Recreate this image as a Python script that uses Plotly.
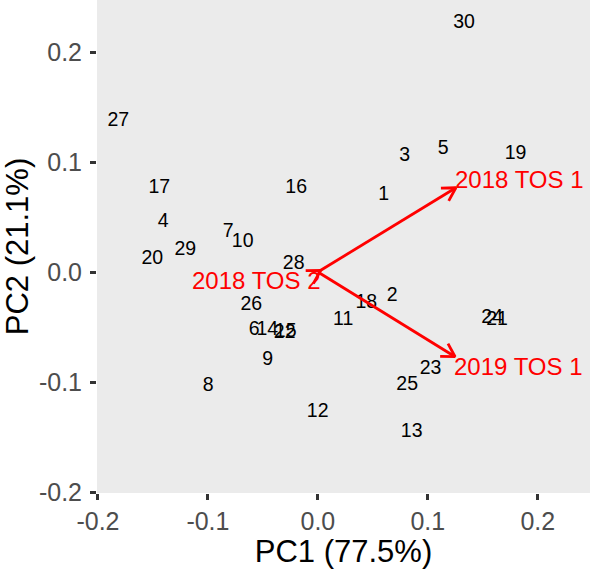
import numpy as np
import plotly.graph_objects as go

# Observation scores (PC1, PC2) and labels
obs_labels = [str(i) for i in range(1, 31)]
pc1 = [0.0598, 0.0675, 0.0789, -0.1406, 0.1139, -0.0579, -0.0815, -0.0997, -0.0456, -0.0684,
       0.0230, -0.0002, 0.0853, -0.0460, -0.0293, -0.0197, -0.1443, 0.0440, 0.1798, -0.1506,
       0.1630, -0.0302, 0.1025, 0.1585, 0.0812, -0.0605, -0.1815, -0.0220, -0.1206, 0.1330]
pc2 = [0.0700, -0.0223, 0.1055, 0.0457, 0.1114, -0.0527, 0.0366, -0.1041, -0.0800, 0.0268,
       -0.0436, -0.1273, -0.1459, -0.0527, -0.0545, 0.0764, 0.0764, -0.0282, 0.1068, 0.0118,
       -0.0436, -0.0555, -0.0882, -0.0418, -0.1032, -0.0300, 0.1368, 0.0073, 0.0195, 0.2261]

# Variable loadings (arrow tips)
var_names = ["2018 TOS 1", "2019 TOS 1", "2018 TOS 2"]
load_pc1 = [0.1255, 0.1248, 0.0025]
load_pc2 = [0.0766, -0.0770, 0.0015]

# Axis ticks
tick_vals = [-0.2, -0.1, 0.0, 0.1, 0.2]
tick_text = ["-0.2", "-0.1", "0.0", "0.1", "0.2"]

# Styles
FONT = "Liberation Sans"
RED = "#FF0000"
label_anchor = ["left", "left", "right"]
label_xshift = [-3, -3, 2]
label_yshift = [8, -10, -10]
head_len = 0.0136
head_ang = np.pi / 6

fig = go.Figure()

fig.add_trace(go.Scatter(
    x=pc1, y=pc2, text=obs_labels, mode="text",
    textposition="middle center",
    textfont=dict(family=FONT, size=19.5, color="black"),
    hoverinfo="skip", showlegend=False,
))

# Arrows (shaft + open chevron head), computed from loadings
ax_, ay_ = [], []
for tx, ty in zip(load_pc1, load_pc2):
    ax_ += [0, tx, None]
    th = np.arctan2(ty, tx) + np.pi
    a1 = (tx + head_len * np.cos(th + head_ang), ty + head_len * np.sin(th + head_ang))
    a2 = (tx + head_len * np.cos(th - head_ang), ty + head_len * np.sin(th - head_ang))
    ax_ += [a1[0], tx, a2[0], None]
    ay_ += [0, ty, None, a1[1], ty, a2[1], None]
fig.add_trace(go.Scatter(
    x=ax_, y=ay_, mode="lines",
    line=dict(color=RED, width=2.8),
    hoverinfo="skip", showlegend=False,
))

for name, tx, ty, anc, xs, ys in zip(var_names, load_pc1, load_pc2,
                                     label_anchor, label_xshift, label_yshift):
    fig.add_annotation(
        x=tx, y=ty, text=name, showarrow=False,
        xanchor=anc, yanchor="middle", xshift=xs, yshift=ys,
        font=dict(family=FONT, size=24, color=RED),
    )

axis_common = dict(
    showgrid=False, zeroline=False, showline=False,
    ticks="outside", ticklen=6, tickwidth=2.5, tickcolor="#333333",
    tickvals=tick_vals, ticktext=tick_text,
    tickfont=dict(family=FONT, size=25, color="#4D4D4D"),
)

fig.update_layout(
    width=590, height=569,
    margin=dict(l=97, r=0, t=0, b=76),
    paper_bgcolor="white", plot_bgcolor="#EBEBEB",
    font=dict(family=FONT),
    xaxis=dict(range=[-0.2009, 0.2475],
               title=dict(text="PC1 (77.5%)", standoff=2,
                          font=dict(family=FONT, size=31, color="black")),
               **axis_common),
    yaxis=dict(range=[-0.2009, 0.2473],
               title=dict(text="PC2 (21.1%)", standoff=6,
                          font=dict(family=FONT, size=31, color="black")),
               ticklabelstandoff=3,
               **axis_common),
)

fig.write_html("out.html")
